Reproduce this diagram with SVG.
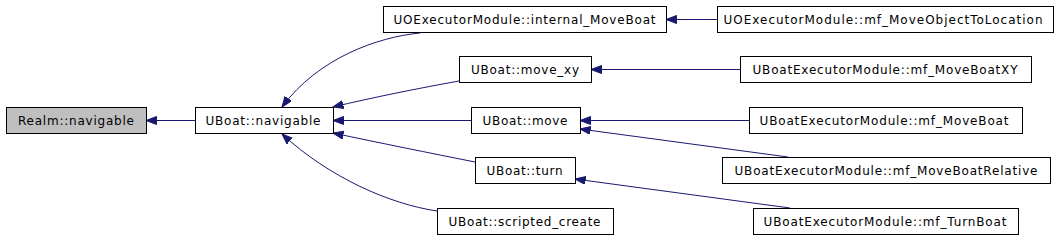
<svg xmlns="http://www.w3.org/2000/svg" width="1059" height="240" viewBox="0 0 1059 240">
<style>
.box{fill:#ffffff;stroke:#000000;stroke-width:1}
.cur{fill:#bfbfbf}
.lbl{font-family:"DejaVu Sans",sans-serif;font-size:12px;fill:#000000;text-anchor:middle}
.edge{fill:none;stroke:#191970;stroke-width:1}
</style>
<defs>
<marker id="arr" markerUnits="userSpaceOnUse" markerWidth="12" markerHeight="10" refX="10.5" refY="4" orient="auto">
<path d="M0,0 L10.5,4 L0,8 z" fill="#191970" stroke="#191970" stroke-width="1"/>
</marker>
</defs>
<rect width="1059" height="240" fill="#ffffff"/>
<g id="connectors">
<path class="edge" marker-end="url(#arr)" d="M195,120.5 L146,120.5"/>
<path class="edge" marker-end="url(#arr)" d="M420,33 C378,37 318,58 282,107"/>
<path class="edge" marker-end="url(#arr)" d="M459,81 C420,88 370,98 333,107"/>
<path class="edge" marker-end="url(#arr)" d="M471,120.5 L333,120.5"/>
<path class="edge" marker-end="url(#arr)" d="M475,162 C430,153 380,143 333,133"/>
<path class="edge" marker-end="url(#arr)" d="M437,211 C390,204 330,178 282,134"/>
<path class="edge" marker-end="url(#arr)" d="M717,19.5 L666,19.5"/>
<path class="edge" marker-end="url(#arr)" d="M740,69.5 L591,69.5"/>
<path class="edge" marker-end="url(#arr)" d="M749,120.5 L580,120.5"/>
<path class="edge" marker-end="url(#arr)" d="M788,157 L580,129"/>
<path class="edge" marker-end="url(#arr)" d="M790,208 L575,179"/>
</g>
<g id="realm_navigable"><rect class="box cur" x="6.5" y="107.5" width="140" height="26"/><text class="lbl" x="76" y="125" textLength="116" lengthAdjust="spacing">Realm::navigable</text></g>
<g id="uboat_navigable"><rect class="box" x="195.5" y="107.5" width="138" height="26"/><text class="lbl" x="263" y="125" textLength="115" lengthAdjust="spacing">UBoat::navigable</text></g>
<g id="internal_moveboat"><rect class="box" x="383.5" y="6.5" width="283" height="26"/><text class="lbl" x="524.5" y="24" textLength="262" lengthAdjust="spacing">UOExecutorModule::internal_MoveBoat</text></g>
<g id="mf_moveobjecttolocation"><rect class="box" x="717.5" y="6.5" width="336" height="26"/><text class="lbl" x="883" y="24" textLength="319" lengthAdjust="spacing">UOExecutorModule::mf_MoveObjectToLocation</text></g>
<g id="move_xy"><rect class="box" x="459.5" y="56.5" width="132" height="26"/><text class="lbl" x="525" y="74" textLength="108" lengthAdjust="spacing">UBoat::move_xy</text></g>
<g id="move"><rect class="box" x="471.5" y="107.5" width="109" height="26"/><text class="lbl" x="525" y="125" textLength="85" lengthAdjust="spacing">UBoat::move</text></g>
<g id="turn"><rect class="box" x="475.5" y="157.5" width="100" height="26"/><text class="lbl" x="524.5" y="175" textLength="76" lengthAdjust="spacing">UBoat::turn</text></g>
<g id="scripted_create"><rect class="box" x="437.5" y="208.5" width="176" height="26"/><text class="lbl" x="524.5" y="226" textLength="152" lengthAdjust="spacing">UBoat::scripted_create</text></g>
<g id="mf_moveboatxy"><rect class="box" x="740.5" y="56.5" width="291" height="26"/><text class="lbl" x="885" y="74" textLength="265" lengthAdjust="spacing">UBoatExecutorModule::mf_MoveBoatXY</text></g>
<g id="mf_moveboat"><rect class="box" x="749.5" y="107.5" width="273" height="26"/><text class="lbl" x="884" y="125" textLength="249" lengthAdjust="spacing">UBoatExecutorModule::mf_MoveBoat</text></g>
<g id="mf_moveboatrelative"><rect class="box" x="722.5" y="157.5" width="328" height="26"/><text class="lbl" x="886" y="175" textLength="303" lengthAdjust="spacing">UBoatExecutorModule::mf_MoveBoatRelative</text></g>
<g id="mf_turnboat"><rect class="box" x="753.5" y="208.5" width="265" height="26"/><text class="lbl" x="885" y="226" textLength="243" lengthAdjust="spacing">UBoatExecutorModule::mf_TurnBoat</text></g>
</svg>
